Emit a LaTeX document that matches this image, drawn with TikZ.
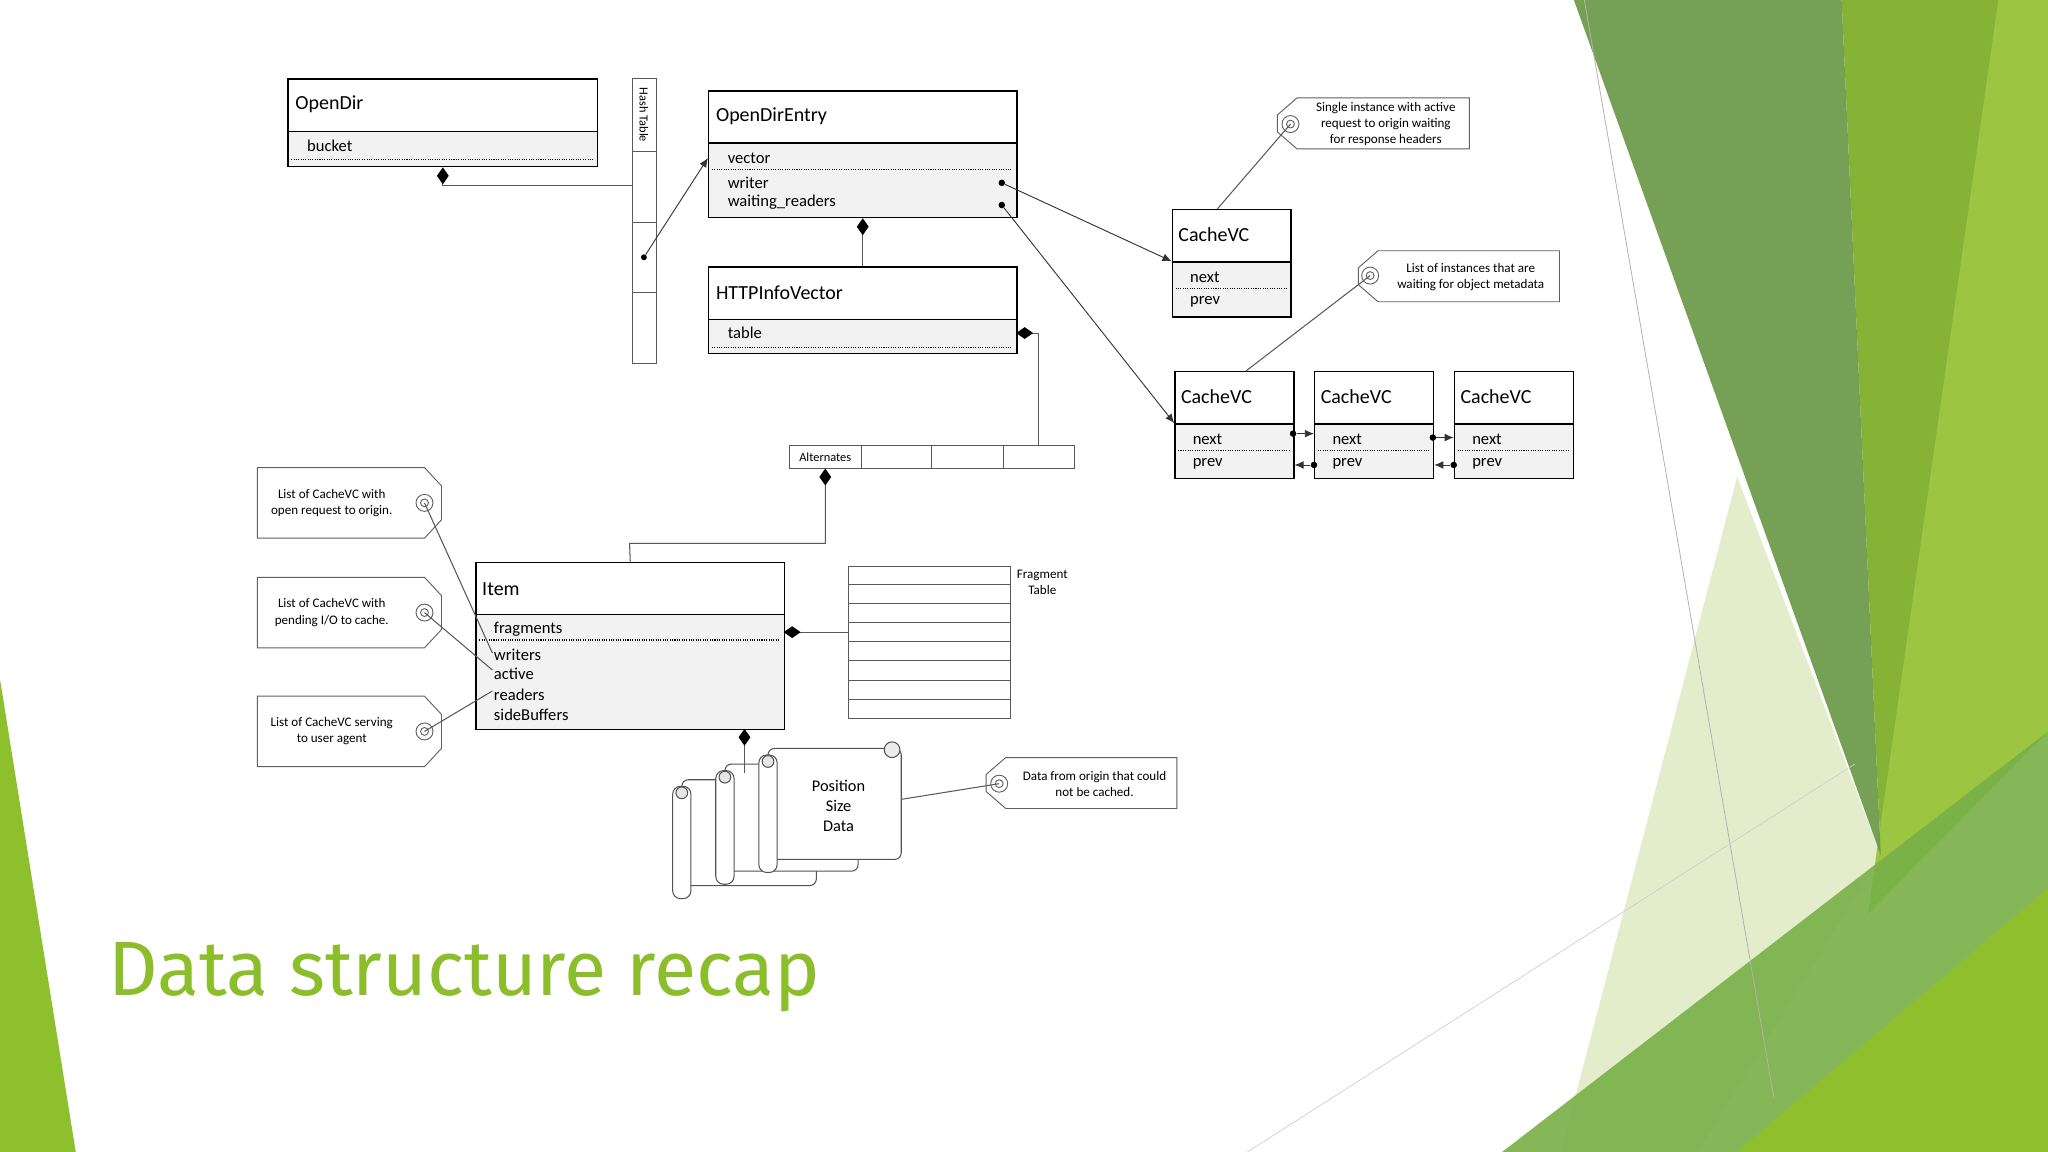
\documentclass[tikz,border=0pt]{standalone}
\usepackage{fontspec}
\setmainfont{Carlito}
\newfontfamily\titlefont{Fira Sans}
\usetikzlibrary{arrows.meta,calc}
\definecolor{cdark}{HTML}{6E9B4C}
\definecolor{cmid}{HTML}{86B336}
\definecolor{clight}{HTML}{9CC641}
\definecolor{cpale}{HTML}{DCE9BE}
\definecolor{cband}{HTML}{78B048}
\definecolor{cyel}{HTML}{8EC02E}
\definecolor{ctitle}{HTML}{8CBE2C}
\begin{document}
\begin{tikzpicture}[x=1pt,y=-1pt,
 hdr/.style={draw=black,line width=1.1pt,fill=white,anchor=north west,inner sep=0},
 bdy/.style={draw=black,line width=1.1pt,fill=gray!10,anchor=north west,inner sep=0},
 ttl/.style={anchor=west,font=\fontsize{15.3}{17}\selectfont,inner sep=0},
 att/.style={anchor=west,font=\fontsize{12.7}{14}\selectfont,inner sep=0},
 dots/.style={densely dotted,line width=0.8pt},
 con/.style={draw=gray!70!black,line width=0.8pt},
 comp/.style={con,{Diamond[length=13pt,width=9pt,fill=black,black]}-},
 arr/.style={draw=black!80,line width=0.7pt,-{Latex[length=7pt,width=6pt]}},
 dotn/.style={circle,fill=black,inner sep=0,minimum size=5pt},
 tagtxt/.style={font=\fontsize{10}{12.3}\selectfont,align=center,inner sep=0},
 tagshape/.style={draw=gray!75!black,line width=0.7pt,fill=white},
 ring/.style={circle,draw=gray!75!black,line width=0.7pt,inner sep=0,minimum size=13pt},
 iring/.style={circle,draw=gray!75!black,line width=0.7pt,inner sep=0,minimum size=6pt},
 scr/.style={draw=gray!65!black,line width=0.8pt,fill=white},
 cell/.style={draw=gray!70!black,line width=0.7pt,fill=white,anchor=north west,inner sep=0}]
% background
\fill[white] (0,0) rectangle (1568,882);
\useasboundingbox (0,0) rectangle (1568,882);
\fill[cpale,opacity=0.8] (1330,365) -- (1440,655) -- (1300,882) -- (1195,882) -- cycle;
\fill[cmid] (1410,0) -- (1568,0) -- (1568,560) -- (1440,655) -- cycle;
\fill[clight] (1530,0) -- (1568,0) -- (1568,560) -- (1430,700) -- cycle;
\fill[cdark,opacity=0.95] (1205,0) -- (1410,0) -- (1440,655) -- cycle;
\fill[cband,opacity=0.9] (1150,882) -- (1568,560) -- (1568,882) -- cycle;
\fill[cyel] (1330,882) -- (1568,680) -- (1568,882) -- cycle;
\draw[gray!60,line width=0.6pt] (1213,0) -- (1358,840);
\draw[gray!40,line width=0.5pt] (955,882) -- (1420,585);
\fill[cyel] (0,520) -- (58,882) -- (0,882) -- cycle;

% OpenDir
\node[hdr,minimum width=237pt,minimum height=40pt] (odh) at (220,60) {};
\node[bdy,minimum width=237pt,minimum height=27pt] (odb) at (220,100) {};
\node[ttl] (odt) at (226,80) {OpenDir};
\node[att] (odbucket) at (235,112) {bucket};
\draw[dots] (223,122) -- (454,122);

% Hash table
\node[cell,minimum width=18pt,minimum height=218pt] (ht) at (484,60) {};
\foreach \yy in {116,170,224} \draw[gray!70!black,line width=0.7pt] (484,\yy) -- (502,\yy);
\node[rotate=-90,font=\fontsize{9.5}{10}\selectfont,inner sep=0] (htl) at (493,88) {Hash Table};
\node[dotn,minimum size=4.5pt] (htdot) at (493,197) {};
\draw[comp] (odb.south) |- ($(ht.north west)+(0,82)$);

% OpenDirEntry
\node[hdr,minimum width=236pt,minimum height=40pt] (odeh) at (542,69) {};
\node[bdy,minimum width=236pt,minimum height=57pt] (odeb) at (542,109) {};
\node[ttl] (odet) at (548,89) {OpenDirEntry};
\node[att] (odevec) at (557,121) {vector};
\node[att] (odewr) at (557,140) {writer};
\node[att] (oderd) at (557,155) {waiting\_readers};
\draw[dots] (545,130) -- (775,130);
\node[dotn] (wdot) at (767,140) {};
\node[dotn] (rdot) at (767,157) {};
\coordinate (vecin) at (542,121);
\draw[arr] (htdot) -- (vecin);

% HTTPInfoVector
\node[hdr,minimum width=236pt,minimum height=40pt] (hvh) at (542,204) {};
\node[bdy,minimum width=236pt,minimum height=26pt] (hvb) at (542,244) {};
\node[ttl] (hvt) at (548,224) {HTTPInfoVector};
\node[att] (hvtab) at (557,255) {table};
\draw[dots] (545,266) -- (775,266);
\draw[comp] (odeb.south) -- (hvh.north);

% Alternates
\node[cell,minimum width=55pt,minimum height=17pt] (alt1) at (604,341) {};
\node[cell,minimum width=54pt,minimum height=17pt] (alt2) at (659,341) {};
\node[cell,minimum width=55pt,minimum height=17pt] (alt3) at (713,341) {};
\node[cell,minimum width=54pt,minimum height=17pt] (alt4) at (768,341) {};
\node[font=\fontsize{9.5}{10}\selectfont,inner sep=0] (altt) at (alt1.center) {Alternates};
\coordinate (hvtabr) at (778,255);
\draw[comp] (hvtabr) -| (alt4.north);

% Item
\node[hdr,minimum width=236pt,minimum height=40pt] (ith) at (364,430) {};
\node[bdy,minimum width=236pt,minimum height=88pt] (itb) at (364,470) {};
\node[ttl] (itt) at (369,451) {Item};
\node[att] (itfr) at (378,482) {fragments};
\node[att] (itwr) at (378,501) {writers};
\node[att] (itac) at (378,516) {active};
\node[att] (itrd) at (378,532) {readers};
\node[att] (itsb) at (378,547) {sideBuffers};
\draw[dots] (367,490) -- (597,490);
\draw[comp] (alt1.south) |- (482,416) -- (ith.north);

% Fragment table
\node[cell,minimum width=124pt,minimum height=117pt] (ft) at (649,433) {};
\foreach \k in {1,...,7} \draw[gray!70!black,line width=0.7pt] (649,433+14.6*\k) -- (773,433+14.6*\k);
\node[tagtxt] (ftl) at (798,446) {Fragment\\Table};
\coordinate (itfrr) at (600,484);
\draw[comp] (itfrr) -- (ft.west |- itfrr);

% scrolls
\foreach \x/\t/\r/\b [count=\i] in {515/597/625/678, 548/585/657/667, 581/573/690/658}{
  \draw[scr,rounded corners=5] (\x+7,\t) -- (\r,\t) -- (\r,\b) -- (\x+7,\b) -- cycle;
  \draw[scr,fill=gray!15] (\r-7,\t+1) circle (6);
  \draw[scr,rounded corners=6] (\x,\t+5) rectangle (\x+14,\b+10);
  \draw[scr,fill=gray!20] (\x+7,\t+10) circle (4.5);
}
\node[font=\fontsize{12.5}{15.5}\selectfont,align=center,inner sep=0] (scrt) at (642,617) {Position\\Size\\Data};
\coordinate (itbot) at (570,558);
\coordinate (scrtop) at (570,592);
\draw[comp] (itbot) -- (scrtop);
\coordinate (scrr) at (690,612);

% CacheVC single
\node[hdr,minimum width=91pt,minimum height=40pt] (cvsh) at (897,160) {};
\node[bdy,minimum width=91pt,minimum height=42pt] (cvsb) at (897,200) {};
\node[ttl] (cvst) at (902,180) {CacheVC};
\node[att] (cvsn) at (911,212) {next};
\node[att] (cvsp) at (911,231) {prev};
\draw[dots] (900,221) -- (985,221);
\draw[arr] (wdot) -- (cvsb.north west);

% CacheVC row
\foreach \x/\n in {899/c1,1006/c2,1113/c3}{
  \node[hdr,minimum width=91pt,minimum height=40pt] (\n h) at (\x,284) {};
  \node[bdy,minimum width=91pt,minimum height=42pt] (\n b) at (\x,324) {};
  \node[ttl] (\n t) at (\x+5,304) {CacheVC};
  \node[att] (\n n) at (\x+14,336) {next};
  \node[att] (\n p) at (\x+14,355) {prev};
  \draw[dots] (\x+3,345) -- (\x+88,345);
}
\draw[arr] (rdot) -- (c1b.north west);
\node[dotn] (n1) at (990,332) {};
\node[dotn] (p2) at (1006,356) {};
\node[dotn] (n2) at (1097,335) {};
\node[dotn] (p3) at (1113,356) {};
\draw[arr] (n1) -- (c2b.west |- n1);
\draw[arr] (p2) -- (c1b.east |- p2);
\draw[arr] (n2) -- (c3b.west |- n2);
\draw[arr] (p3) -- (c2b.east |- p3);

% Tags pointing left
\draw[tagshape] (993,75) -- (1125,75) -- (1125,114) -- (993,114) -- (978,101) -- (978,88) -- cycle;
\node[ring] (r1) at (988,95) {}; \node[iring] (r1i) at (988,95) {};
\node[tagtxt] (t1) at (1061,95) {Single instance with active\\request to origin waiting\\for response headers};
\draw[tagshape] (1055,192) -- (1194,192) -- (1194,231) -- (1055,231) -- (1040,218) -- (1040,205) -- cycle;
\node[ring] (r2) at (1049,211) {}; \node[iring] (r2i) at (1049,211) {};
\node[tagtxt] (t2) at (1126,212) {List of instances that are\\waiting for object metadata};
\draw[tagshape] (770,580) -- (901,580) -- (901,619) -- (770,619) -- (755,606) -- (755,593) -- cycle;
\node[ring] (r3) at (765,600) {}; \node[iring] (r3i) at (765,600) {};
\node[tagtxt] (t3) at (838,600) {Data from origin that could\\not be cached.};
\coordinate (c1top) at (932,160);
\coordinate (c2top) at (954,284);
\draw[con] (c1top) -- (r1.center);
\draw[con] (c2top) -- (r2.center);
\draw[con] (scrr) -- (r3.center);

% Tags pointing right
\foreach \yc/\n/\txt in {385/ta/{List of CacheVC with\\open request to origin.}, 469/tb/{List of CacheVC with\\pending I/O to cache.}, 560/tc/{List of CacheVC serving\\to user agent}}{
  \draw[tagshape] (197,\yc-27) -- (325,\yc-27) -- (338,\yc-13) -- (338,\yc+13) -- (325,\yc+27) -- (197,\yc+27) -- cycle;
  \node[ring] (\n r) at (325,\yc) {}; \node[iring] (\n i) at (325,\yc) {};
  \node[tagtxt] (\n t) at (254,\yc) {\txt};
}
\draw[con] (tar.center) -- ($(itwr.west)+(-1,-1)$);
\draw[con] (tbr.center) -- ($(itac.west)+(-1,-3)$);
\draw[con] (tcr.center) -- ($(itrd.west)+(-1,-3)$);

% Title
\node[anchor=base west,font=\titlefont\fontsize{59}{61}\selectfont,text=ctitle,inner sep=0] (title) at (83,762) {Data structure recap};
\end{tikzpicture}
\end{document}
